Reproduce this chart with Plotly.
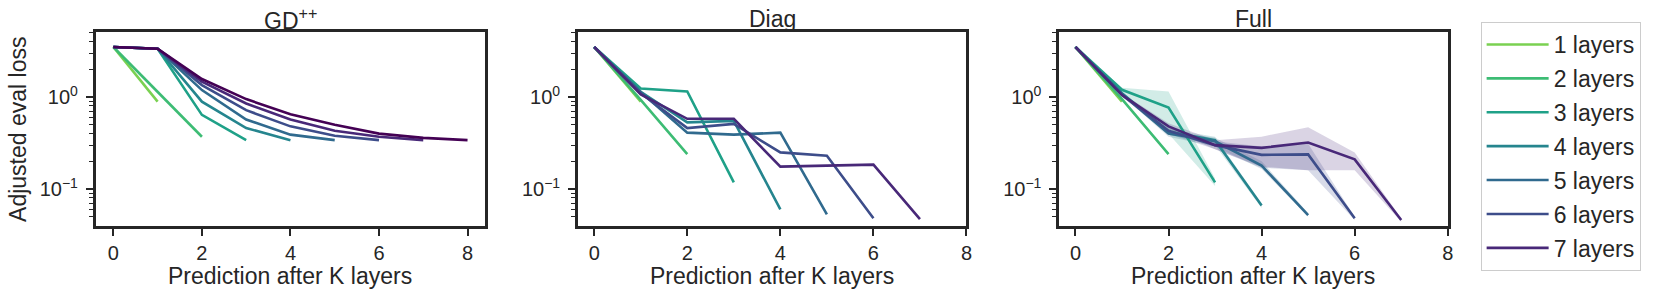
import plotly.graph_objects as go

# ---------------- data ----------------
STEPS = [0, 1, 2, 3, 4, 5, 6, 7, 8]
PANEL_TITLES = ["GD<sup>++</sup>", "Diag", "Full"]
X_TICKS = [0, 2, 4, 6, 8]
Y_TICKS = [0.1, 1]
Y_TICK_TEXT = ["10<sup>−1</sup>", "10<sup>0</sup>"]
Y_MINOR = [0.05, 0.06, 0.07, 0.08, 0.09, 0.2, 0.3, 0.4, 0.5, 0.6, 0.7, 0.8, 0.9, 2, 3, 4, 5]
X_LABEL = "Prediction after K layers"
Y_LABEL = "Adjusted eval loss"

LAYER_COLORS = {
    1: "#7ad151", 2: "#3dbc74", 3: "#1fa188", 4: "#25858e",
    5: "#306a8e", 6: "#3d4d8a", 7: "#482878", 8: "#440154",
}

GDPP_LOSS = {
    1: [3.5, 0.89],
    2: [3.5, 1.14, 0.37],
    3: [3.5, 3.35, 0.64, 0.34],
    4: [3.5, 3.35, 0.89, 0.46, 0.34],
    5: [3.5, 3.35, 1.19, 0.57, 0.39, 0.34],
    6: [3.5, 3.35, 1.35, 0.72, 0.48, 0.38, 0.34],
    7: [3.5, 3.35, 1.47, 0.85, 0.57, 0.43, 0.37, 0.34],
    8: [3.5, 3.35, 1.57, 0.95, 0.65, 0.50, 0.40, 0.36, 0.34],
}

DIAG_LOSS = {
    1: [3.5, 0.89],
    2: [3.5, 0.93, 0.24],
    3: [3.5, 1.24, 1.15, 0.118],
    4: [3.5, 1.14, 0.53, 0.55, 0.060],
    5: [3.5, 1.13, 0.41, 0.39, 0.41, 0.053],
    6: [3.5, 1.10, 0.46, 0.51, 0.25, 0.23, 0.048],
    7: [3.5, 1.07, 0.58, 0.58, 0.175, 0.18, 0.184, 0.047],
}

FULL_LOSS = {
    1: [3.5, 0.89],
    2: [3.5, 0.95, 0.24],
    3: [3.5, 1.20, 0.77, 0.118],
    4: [3.5, 1.10, 0.42, 0.34, 0.066],
    5: [3.5, 1.08, 0.40, 0.33, 0.18, 0.052],
    6: [3.5, 1.06, 0.43, 0.30, 0.235, 0.238, 0.048],
    7: [3.5, 1.05, 0.48, 0.30, 0.28, 0.32, 0.21, 0.046],
}

FULL_LOW = {
    3: [3.5, 1.08, 0.40, 0.108],
    4: [3.5, 1.05, 0.39, 0.30, 0.062],
    5: [3.5, 1.04, 0.37, 0.29, 0.165, 0.050],
    6: [3.5, 1.00, 0.40, 0.27, 0.17, 0.16, 0.046],
    7: [3.5, 1.00, 0.45, 0.27, 0.175, 0.16, 0.16, 0.044],
}

FULL_HIGH = {
    3: [3.5, 1.26, 1.15, 0.13],
    4: [3.5, 1.12, 0.45, 0.37, 0.070],
    5: [3.5, 1.12, 0.43, 0.36, 0.20, 0.055],
    6: [3.5, 1.10, 0.46, 0.33, 0.29, 0.31, 0.050],
    7: [3.5, 1.10, 0.52, 0.34, 0.37, 0.47, 0.25, 0.048],
}

# ---------------- styling ----------------
W, H = 1661, 298
FONT = "Liberation Sans, Arial, Helvetica, sans-serif"
INK = "#262626"
FS = 23        # titles, axis labels, legend
FS_TICK = 20   # tick labels

PANEL_PX = [(96, 487), (580, 970), (1063, 1453)]
TOP_PX, BOTTOM_PX = 32, 226
X_RANGES = [[-0.4, 8.4], [-0.35, 8.0], [-0.35, 8.0]]
Y_RANGE_LOG = [-1.402, 0.707]


def rgba(hex_color, a):
    h = hex_color.lstrip("#")
    r, g, b = int(h[0:2], 16), int(h[2:4], 16), int(h[4:6], 16)
    return f"rgba({r},{g},{b},{a})"


fig = go.Figure()

panels = [GDPP_LOSS, DIAG_LOSS, FULL_LOSS]
for p, data in enumerate(panels):
    xa = "x" if p == 0 else f"x{p + 1}"
    ya = "y" if p == 0 else f"y{p + 1}"
    if p == 2:
        for n in sorted(FULL_LOW):
            xs = STEPS[: len(FULL_LOW[n])]
            fig.add_trace(go.Scatter(x=xs, y=FULL_LOW[n], xaxis=xa, yaxis=ya, mode="lines",
                                     line=dict(width=0, color=LAYER_COLORS[n]), showlegend=False,
                                     hoverinfo="skip", legendgroup=f"L{n}"))
            fig.add_trace(go.Scatter(x=xs, y=FULL_HIGH[n], xaxis=xa, yaxis=ya, mode="lines",
                                     line=dict(width=0, color=LAYER_COLORS[n]), fill="tonexty",
                                     fillcolor=rgba(LAYER_COLORS[n], 0.2), showlegend=False,
                                     hoverinfo="skip", legendgroup=f"L{n}"))
    for n in sorted(data):
        ys = data[n]
        fig.add_trace(go.Scatter(
            x=STEPS[: len(ys)], y=ys, xaxis=xa, yaxis=ya, mode="lines",
            line=dict(color=LAYER_COLORS[n], width=2.6),
            name=f"{n} layers", legendgroup=f"L{n}",
            showlegend=(p == 2),
        ))

axis_common = dict(
    showline=True, mirror=True, linewidth=2.6, linecolor=INK,
    showgrid=False, zeroline=False,
    ticks="outside", ticklen=7, tickwidth=1.6, tickcolor=INK,
    tickfont=dict(family=FONT, size=FS_TICK, color=INK),
)

layout = dict(
    width=W, height=H, autosize=False,
    margin=dict(l=0, r=0, t=0, b=0),
    paper_bgcolor="white", plot_bgcolor="white",
    font=dict(family=FONT, size=FS, color=INK),
    legend=dict(
        x=1486 / W, y=1 - 22 / H, xanchor="left", yanchor="top",
        bordercolor="#cccccc", borderwidth=1, bgcolor="white",
        font=dict(family=FONT, size=FS, color=INK),
        traceorder="grouped", tracegroupgap=1,
        itemwidth=62,
    ),
)

ydom = [1 - BOTTOM_PX / H, 1 - TOP_PX / H]
annotations = []
for p, (l, r) in enumerate(PANEL_PX):
    xk = "xaxis" if p == 0 else f"xaxis{p + 1}"
    yk = "yaxis" if p == 0 else f"yaxis{p + 1}"
    layout[xk] = dict(axis_common, domain=[l / W, r / W], range=X_RANGES[p],
                      tickmode="array", tickvals=X_TICKS,
                      anchor="y" if p == 0 else f"y{p + 1}")
    layout[yk] = dict(axis_common, domain=ydom, type="log", range=Y_RANGE_LOG,
                      tickmode="array", tickvals=Y_TICKS, ticktext=Y_TICK_TEXT,
                      ticklabelstandoff=4,
                      minor=dict(tickmode="array", tickvals=Y_MINOR, ticks="outside",
                                 ticklen=4, tickwidth=1.2, tickcolor=INK, showgrid=False),
                      anchor="x" if p == 0 else f"x{p + 1}")
    cx = (l + r) / 2 / W
    annotations.append(dict(text=PANEL_TITLES[p], x=cx, y=1 - 19 / H, xref="paper", yref="paper",
                            xanchor="center", yanchor="middle", showarrow=False,
                            font=dict(family=FONT, size=FS, color=INK)))
    annotations.append(dict(text=X_LABEL, x=cx, y=1 - 276 / H, xref="paper", yref="paper",
                            xanchor="center", yanchor="middle", showarrow=False,
                            font=dict(family=FONT, size=FS, color=INK)))

annotations.append(dict(text=Y_LABEL, x=18 / W, y=1 - 129 / H, xref="paper", yref="paper",
                        xanchor="center", yanchor="middle", textangle=-90, showarrow=False,
                        font=dict(family=FONT, size=FS, color=INK)))
layout["annotations"] = annotations

fig.update_layout(**layout)

fig.write_html("out.html", config={"displayModeBar": False},
               post_script="document.body.style.margin='0';document.body.style.overflow='hidden';")
